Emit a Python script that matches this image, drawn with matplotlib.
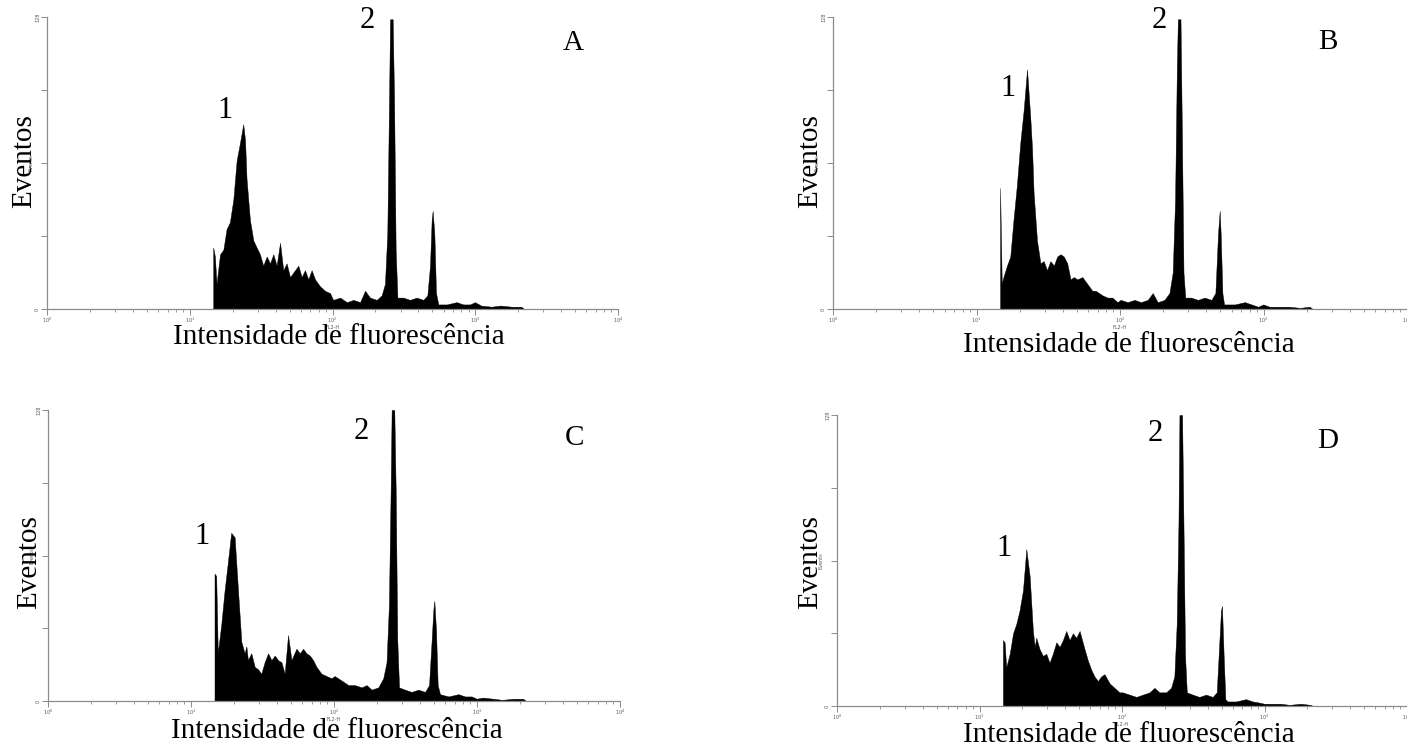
import numpy as np
from matplotlib import pyplot as plt
from matplotlib.ticker import LogLocator, NullFormatter, FixedLocator

# canais de fluorescencia (FL2-H) comuns aos quatro histogramas
canal = [14.6, 15.0, 15.4, 16.3, 17.2, 18.1, 19.1, 20.2, 21.3, 22.5, 23.7, 24.4, 25.0,
         26.4, 27.9, 29.4, 31.0, 32.7, 34.6, 36.5, 38.5, 40.6, 42.9, 45.2, 47.7, 50.4,
         54.6, 57.6, 60.8, 64.1, 67.7, 71.4, 75.4, 81.7, 88.5, 96, 101, 113, 126, 140,
         156, 169, 183, 204, 221, 233, 242, 249, 253, 264, 270, 277, 285, 313, 349, 389,
         433, 462, 482, 495, 503, 517, 531, 551, 631, 741, 825, 918, 996, 1100, 1300,
         1500, 1800, 2100, 2200]

eventos_A = [27, 23, 11, 24, 26, 35, 38, 48, 65, 73, 81, 74, 57,
             39, 30, 27, 24, 19, 23, 20, 24, 19, 29, 17, 20, 14,
             17, 19, 14, 17, 13, 17, 13, 10, 8, 7, 4, 5, 3, 4,
             3, 8, 5, 4, 6, 11, 33, 92, 127, 127, 92, 26, 5, 5, 4, 5,
             4, 6, 19, 39, 43, 33, 7, 2, 2, 3, 2, 2, 3, 1.5, 1,
             1.5, 1, 1, 0]

eventos_B = [53, 11, 14, 19, 23, 39, 54, 73, 87, 105, 84, 70, 51,
             30, 20, 21, 17, 21, 19, 23, 24, 23, 20, 13, 14, 13,
             14, 12, 10, 8, 8, 7, 6, 5, 5, 3, 4, 3, 4, 3,
             4, 7, 3, 4, 7, 16, 48, 106, 127, 127, 77, 16, 5, 5, 4, 5,
             4, 7, 33, 43, 33, 7, 2, 2, 2, 3, 2, 1, 2, 1, 1,
             1, 0.5, 1, 0]

eventos_C = [56, 55, 21, 34, 49, 61, 74, 72, 49, 26, 21, 24, 18,
             21, 15, 14, 12, 17, 21, 18, 20, 18, 17, 12, 29, 18,
             23, 21, 23, 21, 20, 18, 15, 12, 11, 10, 11, 9, 7, 7,
             6, 7, 5, 6, 10, 17, 42, 93, 128, 128, 93, 27, 6, 5, 4, 5,
             4, 7, 27, 40, 44, 31, 7, 3, 2, 3, 2, 2, 1, 1.5, 1,
             0.5, 1, 1, 0]

eventos_D = [29, 28, 17, 23, 32, 36, 42, 51, 69, 57, 33, 26, 30,
             25, 22, 23, 19, 23, 28, 26, 29, 33, 29, 32, 30, 33,
             25, 20, 16, 13, 11, 13, 14, 10, 8, 6, 6, 5, 4, 5,
             6, 8, 6, 6, 8, 13, 36, 80, 128, 128, 80, 22, 6, 5, 4, 5,
             4, 6, 28, 42, 44, 22, 3, 2, 2, 3, 2, 1.5, 1, 1, 1,
             0.5, 1, 0.5, 0]

letras = ['A', 'B', 'C', 'D']
series = [eventos_A, eventos_B, eventos_C, eventos_D]

W, H = 1407, 753
# caixas dos eixos em pixels: esquerda, topo, direita, base
caixas = [(47, 17, 618, 309), (833, 17, 1407, 309),
          (48, 410, 620, 701), (837, 415, 1407, 706)]
# posicoes dos textos (pixels)
pos_eventos = [(24, 161), (810, 161), (29, 562), (810, 562)]
pos_intens = [(339, 337), (1129, 345), (337, 731), (1129, 735)]
pos_letra = [(573, 43), (1328, 42), (574, 438), (1328, 441)]
pos_1 = [(225, 110), (1008, 88), (202, 537), (1004, 549)]
pos_2 = [(367, 21), (1159, 21), (361, 431), (1155, 433)]

serif = ['Liberation Serif', 'DejaVu Serif']
cinza = '#8c8c8c'

fig = plt.figure(figsize=(W / 100, H / 100), dpi=100)


def fx(x):
    return x / W


def fy(y):
    return 1 - y / H


for i in range(4):
    l, t, r, b = caixas[i]
    ax = fig.add_axes([fx(l), fy(b), fx(r) - fx(l), fy(t) - fy(b)])
    ax.fill_between(canal, series[i], 0, color='black', linewidth=0.3, edgecolor='black')
    ax.set_xscale('log')
    ax.set_xlim(1, 1e4)
    ax.set_ylim(0, 128)
    for lado in ['top', 'right']:
        ax.spines[lado].set_visible(False)
    for lado in ['left', 'bottom']:
        ax.spines[lado].set_color(cinza)
        ax.spines[lado].set_linewidth(0.9)
    ax.xaxis.set_major_locator(FixedLocator([1, 10, 100, 1000, 10000]))
    ax.set_xticklabels([r'$10^{0}$', r'$10^{1}$', r'$10^{2}$', r'$10^{3}$', r'$10^{4}$'])
    ax.xaxis.set_minor_locator(LogLocator(base=10, subs=np.arange(2, 10)))
    ax.xaxis.set_minor_formatter(NullFormatter())
    ax.yaxis.set_major_locator(FixedLocator([0, 32, 64, 96, 128]))
    ax.set_yticklabels(['0', '', '', '', '128'], rotation=90, va='center')
    ax.tick_params(axis='both', which='major', length=4, width=0.7, color=cinza,
                   labelsize=3.5, labelcolor='#555555', pad=1)
    ax.tick_params(axis='x', which='minor', length=2.5, width=0.6, color=cinza)
    ax.set_xlabel('FL2-H', fontsize=3.5, color='#555555', labelpad=0)
    ax.set_ylabel('Events', fontsize=3.5, color='#555555', labelpad=1)

    fig.text(fx(pos_eventos[i][0]), fy(pos_eventos[i][1]), 'Eventos', rotation=90,
             ha='center', va='center', fontsize=21, family=serif)
    fig.text(fx(pos_intens[i][0]), fy(pos_intens[i][1]), 'Intensidade de fluorescência',
             ha='center', va='center', fontsize=21, family=serif)
    fig.text(fx(pos_letra[i][0]), fy(pos_letra[i][1]), letras[i],
             ha='center', va='center', fontsize=21, family=serif)
    fig.text(fx(pos_1[i][0]), fy(pos_1[i][1]), '1',
             ha='center', va='center', fontsize=22, family=serif)
    fig.text(fx(pos_2[i][0]), fy(pos_2[i][1]), '2',
             ha='center', va='center', fontsize=22, family=serif)

plt.savefig('out.png', dpi=100)
